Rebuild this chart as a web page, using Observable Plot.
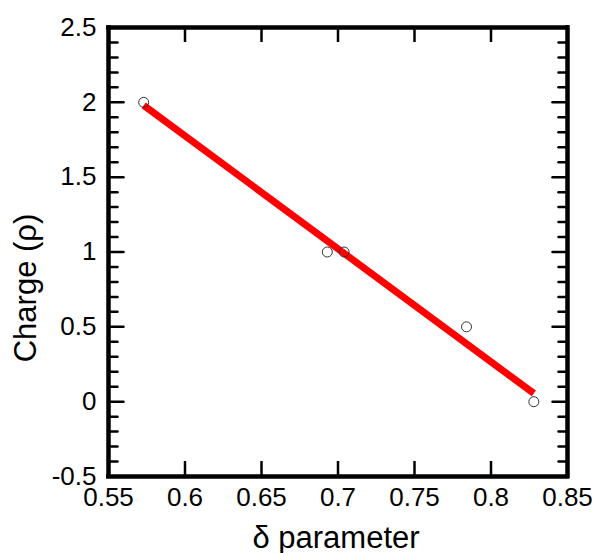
<!DOCTYPE html>
<html>
<head>
<meta charset="utf-8">
<script src="https://cdn.jsdelivr.net/npm/d3@7"></script>
<script src="https://cdn.jsdelivr.net/npm/@observablehq/plot@0.6"></script>
<style>
  html, body { margin: 0; padding: 0; background: #fff; overflow: hidden; }
  #chart svg { font-family: 'Liberation Sans', Arial, Helvetica, sans-serif; background: #fff; }
</style>
</head>
<body>
<div id="chart"></div>
<script>
// Data points (δ parameter, charge ρ)
const deltaValues = [0.573, 0.693, 0.704, 0.784, 0.828];
const chargeValues = [2, 1, 1, 0.5, 0];

// Fitted line endpoints
const fitDelta = [0.573, 0.828];
const fitCharge = [1.98, 0.055];

// Axis extents and ticks
const xDomain = [0.55, 0.85];
const yDomain = [-0.5, 2.5];
const xTicks = [0.55, 0.6, 0.65, 0.7, 0.75, 0.8, 0.85];
const xTickLabels = ["0.55", "0.6", "0.65", "0.7", "0.75", "0.8", "0.85"];
const yMajorTicks = [-0.5, 0, 0.5, 1, 1.5, 2, 2.5];
const yTickLabels = ["-0.5", "0", "0.5", "1", "1.5", "2", "2.5"];
const yMinorTicks = [-0.4, -0.3, -0.2, -0.1, 0.1, 0.2, 0.3, 0.4, 0.6, 0.7, 0.8, 0.9,
  1.1, 1.2, 1.3, 1.4, 1.6, 1.7, 1.8, 1.9, 2.1, 2.2, 2.3, 2.4];

const xTitle = "δ parameter";
const yTitle = "Charge (ρ)";

const points = deltaValues.map((d, i) => ({delta: d, charge: chargeValues[i]}));
const fit = fitDelta.map((d, i) => ({delta: d, charge: fitCharge[i]}));

const W = 595, H = 553, mL = 108, mR = 28, mT = 27, mB = 77;
const major = 15, minor = 9, tw = 2.5;
const yPerPx = (yDomain[1] - yDomain[0]) / (H - mT - mB);

// straight tick shape for vectors
const tickShape = {draw(context, l) { context.moveTo(0, 0); context.lineTo(0, -l); }};

const chart = Plot.plot({
  width: W,
  height: H,
  marginLeft: mL,
  marginRight: mR,
  marginTop: mT,
  marginBottom: mB,
  x: {domain: xDomain, axis: null},
  y: {domain: yDomain, axis: null},
  marks: [
    Plot.line(fit, {x: "delta", y: "charge", stroke: "#ff0000", strokeWidth: 7, strokeLinecap: "butt"}),
    Plot.dot(points, {x: "delta", y: "charge", r: 5, stroke: "#333", strokeWidth: 1, fill: "none"}),
    // inward x ticks (bottom and top)
    Plot.ruleX(xTicks, {x: d => d, y1: yDomain[0], y2: yDomain[0] + major * yPerPx, stroke: "black", strokeWidth: tw}),
    Plot.ruleX(xTicks, {x: d => d, y1: yDomain[1], y2: yDomain[1] - major * yPerPx, stroke: "black", strokeWidth: tw}),
    // inward y ticks (left and right)
    Plot.vector(yMajorTicks, {y: d => d, frameAnchor: "left", length: major, rotate: 90, anchor: "start", shape: tickShape, stroke: "black", strokeWidth: tw}),
    Plot.vector(yMinorTicks, {y: d => d, frameAnchor: "left", length: minor, rotate: 90, anchor: "start", shape: tickShape, stroke: "black", strokeWidth: tw}),
    Plot.vector(yMajorTicks, {y: d => d, frameAnchor: "right", length: major, rotate: -90, anchor: "start", shape: tickShape, stroke: "black", strokeWidth: tw}),
    Plot.vector(yMinorTicks, {y: d => d, frameAnchor: "right", length: minor, rotate: -90, anchor: "start", shape: tickShape, stroke: "black", strokeWidth: tw}),
    // tick labels
    Plot.text(xTicks, {x: d => d, frameAnchor: "bottom", dy: 11, lineAnchor: "top", fontSize: 26,
      text: (d, i) => xTickLabels[i], fill: "black"}),
    Plot.text(yMajorTicks, {y: d => d, frameAnchor: "left", dx: -12, textAnchor: "end", fontSize: 26,
      text: (d, i) => yTickLabels[i], fill: "black"}),
    // axis titles
    Plot.text([xTitle], {frameAnchor: "bottom", dx: -2, dy: 71, fontSize: 31, fill: "black",
      textAnchor: "middle", lineAnchor: "bottom", text: d => d}),
    Plot.text([yTitle], {frameAnchor: "left", dx: -82, dy: 36, rotate: -90, fontSize: 31, fill: "black",
      textAnchor: "middle", lineAnchor: "middle", text: d => d}),
    // thick box
    Plot.ruleX(xDomain, {x: d => d, stroke: "black", strokeWidth: 4, strokeLinecap: "square"}),
    Plot.ruleY(yDomain, {y: d => d, stroke: "black", strokeWidth: 4, strokeLinecap: "square"}),
    Plot.frame({strokeWidth: 4})
  ]
});
document.getElementById("chart").appendChild(chart);
</script>
</body>
</html>
